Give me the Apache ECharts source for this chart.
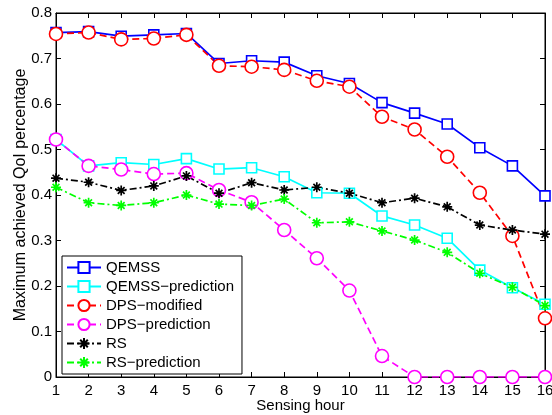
<!DOCTYPE html>
<html>
<head>
<meta charset="utf-8">
<script src="https://cdn.jsdelivr.net/npm/echarts@6/dist/echarts.min.js"></script>
<style>html,body{margin:0;padding:0;background:#fff}#c{width:552px;height:415px}</style>
</head>
<body>
<div id="c"></div>
<script>
const hours = [1,2,3,4,5,6,7,8,9,10,11,12,13,14,15,16];
const qemss = [0.757,0.759,0.749,0.752,0.755,0.689,0.695,0.692,0.662,0.645,0.603,0.580,0.556,0.504,0.464,0.398];
const qemssPred = [0.522,0.464,0.471,0.467,0.480,0.457,0.460,0.440,0.405,0.404,0.354,0.334,0.305,0.235,0.196,0.160];
const dpsMod = [0.754,0.757,0.742,0.744,0.752,0.684,0.682,0.675,0.651,0.638,0.572,0.544,0.484,0.405,0.310,0.129];
const dpsPred = [0.522,0.464,0.456,0.446,0.448,0.411,0.384,0.323,0.261,0.190,0.046,0,0,0,0,0];
const rs = [0.437,0.428,0.410,0.420,0.442,0.404,0.427,0.411,0.417,0.404,0.383,0.393,0.374,0.334,0.323,0.314];
const rsPred = [0.417,0.383,0.377,0.383,0.400,0.380,0.377,0.391,0.339,0.341,0.321,0.301,0.274,0.228,0.197,0.157];
const seriesNames = ['QEMSS','QEMSS\u2212prediction','DPS\u2212modified','DPS\u2212prediction','RS','RS\u2212prediction'];

const star = 'path://M0 5L10 5M5 0L5 10M1.6 1.6L8.4 8.4M1.6 8.4L8.4 1.6';
const font = 'Liberation Sans, Arial, Helvetica, sans-serif';
function mk(name, data, color, type, symbol, size){
  const isStar = symbol === star;
  return {
    name, type:'line', data: data.map((v,i)=>[hours[i],v]),
    symbol, symbolSize:size, showSymbol:true,
    lineStyle:{color, width:1.7, type},
    itemStyle:{color: isStar? color : '#fff', borderColor:color, borderWidth: isStar?1.7:1.6},
    emphasis:{disabled:true}, animation:false, z:2
  };
}
const dash=[7,4], dashdot=[7,3,2,3];
const chart = echarts.init(document.getElementById('c'), null, {renderer:'canvas'});
const axisCommon = {
  axisLine:{show:true, onZero:false, lineStyle:{color:'#000', width:1}},
  axisTick:{show:true, inside:true, length:5, lineStyle:{color:'#000'}},
  splitLine:{show:false}
};
chart.setOption({
  backgroundColor:'#fff',
  animation:false,
  grid:{left:56, right:7, top:13, bottom:38, containLabel:false, outerBoundsMode:'none',
    show:true, borderColor:'#000', borderWidth:1, backgroundColor:'transparent'},
  xAxis:[
    Object.assign({type:'value', min:1, max:16, interval:1, position:'bottom',
      name:'Sensing hour', nameLocation:'middle', nameGap:21, nameMoveOverlap:false,
      nameTextStyle:{fontFamily:font, fontSize:15, color:'#000', verticalAlign:'top'},
      axisLabel:{fontFamily:font, fontSize:15, color:'#000', margin:6}}, axisCommon),
    Object.assign({type:'value', min:1, max:16, interval:1, position:'top', axisLabel:{show:false}}, axisCommon)
  ],
  yAxis:[
    Object.assign({type:'value', min:0, max:0.8, interval:0.1, position:'left',
      name:'Maximum achieved QoI percentage', nameLocation:'middle', nameGap:27, nameMoveOverlap:false,
      nameTextStyle:{fontFamily:font, fontSize:16, color:'#000'},
      axisLabel:{fontFamily:font, fontSize:15, color:'#000', margin:4,
        formatter:v=>(Math.round(v*10)/10).toString()}}, axisCommon),
    Object.assign({type:'value', min:0, max:0.8, interval:0.1, position:'right', axisLabel:{show:false}}, axisCommon)
  ],
  legend:{
    orient:'vertical', left:62, top:256, data:seriesNames,
    itemWidth:34, itemHeight:14, itemGap:4,
    padding:[4,8,4,4],
    backgroundColor:'#fff', borderColor:'#000', borderWidth:1,
    textStyle:{fontFamily:font, fontSize:15, lineHeight:15, color:'#000', padding:[0,0,0,0]},
    selectedMode:false
  },
  series:[
    mk(seriesNames[0], qemss, '#0000ff', 'solid', 'rect', 10),
    mk(seriesNames[1], qemssPred, '#00ffff', 'solid', 'rect', 10),
    mk(seriesNames[2], dpsMod, '#ff0000', dash, 'circle', 13),
    mk(seriesNames[3], dpsPred, '#ff00ff', dash, 'circle', 13),
    mk(seriesNames[4], rs, '#000000', dashdot, star, 10),
    mk(seriesNames[5], rsPred, '#00ff00', dashdot, star, 10)
  ]
});
</script>
</body>
</html>
